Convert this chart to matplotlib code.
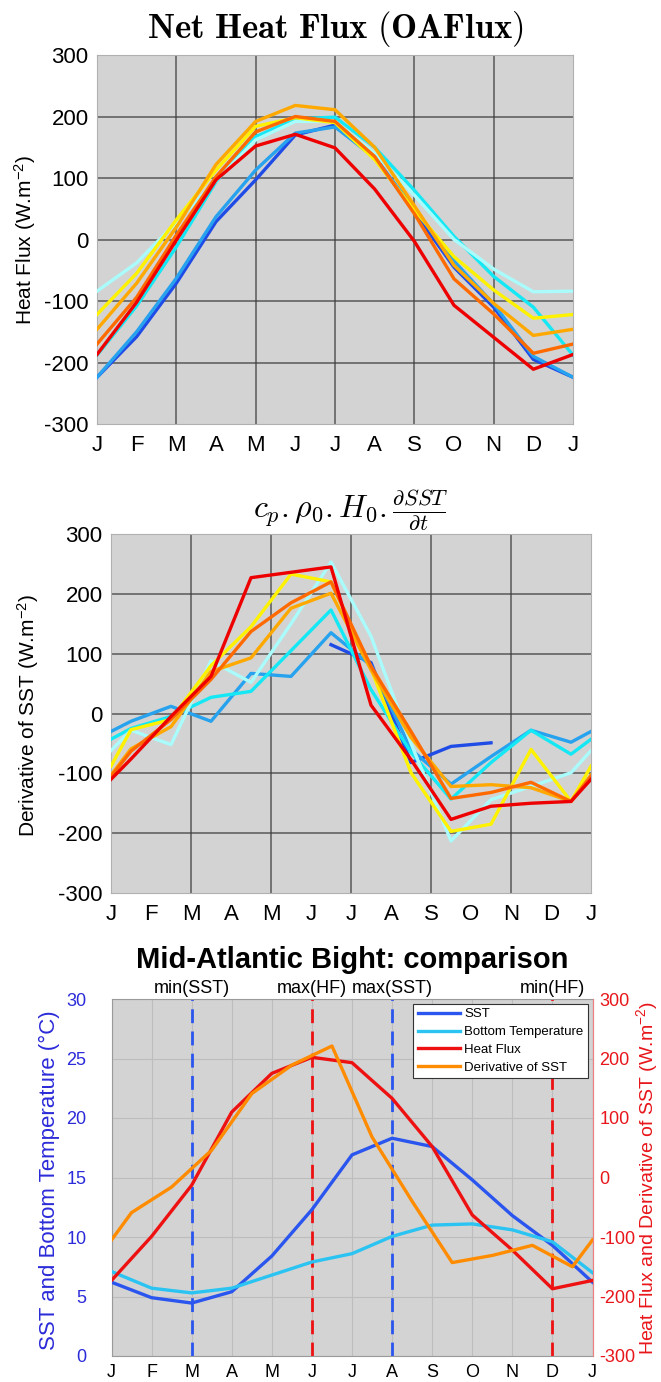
import numpy as np
import matplotlib
matplotlib.use('Agg')
import matplotlib.pyplot as plt

plt.rcParams['font.family'] = 'Liberation Sans'
plt.rcParams['mathtext.fontset'] = 'custom'
plt.rcParams['mathtext.rm'] = 'Liberation Sans'
plt.rcParams['mathtext.it'] = 'Liberation Sans:italic'
plt.rcParams['mathtext.bf'] = 'Liberation Sans:bold'
plt.rcParams['axes.unicode_minus'] = False

months = ['J', 'F', 'M', 'A', 'M', 'J', 'J', 'A', 'S', 'O', 'N', 'D', 'J']
x_month = np.arange(13)
x_mid = [0, 0.5, 1.5, 2.5, 3.5, 4.5, 5.5, 6.5, 7.5, 8.5, 9.5, 10.5, 11.5, 12]
nan = np.nan

# panel 1 : net heat flux (OAFlux), one line per box
hf_blue = [-224, -158, -71, 29, 97, 170, 186, 135, 45, -45, -110, -195, -224]
hf_dodger = [-224, -150, -63, 37, 113, 173, 183, 133, 50, -35, -105, -190, -224]
hf_cyan = [-188, -108, -12, 94, 167, 196, 199, 150, 80, 5, -60, -110, -188]
hf_pale = [-84, -38, 28, 96, 162, 192, 192, 140, 72, 0, -48, -85, -84]
hf_yellow = [-122, -55, 32, 113, 184, 198, 190, 130, 48, -28, -82, -128, -122]
hf_orange = [-146, -71, 20, 122, 192, 218, 211, 150, 55, -42, -104, -156, -146]
hf_dkorange = [-170, -94, 7, 102, 175, 200, 192, 135, 42, -64, -121, -185, -170]
hf_red = [-187, -102, -1, 97, 152, 171, 149, 82, -3, -107, -159, -211, -187]

# panel 2 : cp.rho0.H0.dSST/dt (mid-month values)
ds_blue = [nan, nan, nan, nan, nan, nan, 115, 85, -82, -55, -49, nan, nan, nan]
ds_dodger = [-30, -13, 12, -13, 67, 62, 135, 80, -60, -118, -72, -28, -48, -30]
ds_cyan = [-43, -25, -5, 27, 37, 105, 173, 40, -65, -143, -82, -28, -68, -43]
ds_pale = [-62, -28, -52, 88, 52, 150, 253, 129, -50, -213, -144, -122, -99, -62]
ds_yellow = [-88, -27, -10, 80, 145, 233, 220, 75, -99, -197, -185, -60, -147, -88]
ds_orange = [-103, -59, -22, 70, 93, 176, 201, 73, -40, -122, -119, -124, -147, -103]
ds_dkorange = [-105, -63, -10, 57, 137, 185, 220, 79, -30, -142, -132, -115, -147, -105]
ds_red = [-110, -76, -5, 62, 227, 236, 245, 14, -77, -177, -155, -150, -147, -110]

# panel 3 : Mid-Atlantic Bight comparison
sst = [6.2, 4.9, 4.45, 5.4, 8.4, 12.3, 16.9, 18.3, 17.6, 14.8, 11.8, 9.3, 6.2]
bottom_t = [7.1, 5.7, 5.3, 5.7, 6.8, 7.9, 8.6, 10.05, 11.0, 11.1, 10.6, 9.6, 7.0]
hf_mean = [-173, -99, -13, 110, 175, 202, 193, 133, 52, -63, -122, -187, -173]
ds_mean = [-105, -59, -16, 46, 141, 189, 221, 68, -40, -143, -131, -114, -150, -105]

box_colors = ['#1f4be6', '#27a2ee', '#14e8f5', '#aafcfc',
              '#fff200', '#ffa800', '#ff6a00', '#ee0000']
hf_series = [hf_blue, hf_dodger, hf_cyan, hf_pale, hf_yellow, hf_orange, hf_dkorange, hf_red]
ds_series = [ds_blue, ds_dodger, ds_cyan, ds_pale, ds_yellow, ds_orange, ds_dkorange, ds_red]

fig = plt.figure(figsize=(6.61, 13.82), dpi=100)
W, H = 661., 1382.


def box_axes(l, t, r, b):
    return fig.add_axes([l/W, 1-b/H, (r-l)/W, (b-t)/H])


def style_top(ax):
    ax.set_facecolor('#d3d3d3')
    ax.set_xlim(0, 12)
    ax.set_ylim(-300, 300)
    ax.set_xticks(x_month)
    ax.set_xticklabels(months)
    ax.set_yticks(np.arange(-300, 301, 100))
    ax.tick_params(length=0, labelsize=16)
    ax.tick_params(axis='x', pad=8)
    ax.tick_params(axis='y', pad=6)
    for v in np.arange(-200, 201, 100):
        ax.axhline(v, color='#3c3c3c', lw=1.2, alpha=0.75, zorder=1)
    for m in [2, 4, 6, 8, 10]:
        ax.axvline(m, color='#3c3c3c', lw=1.2, alpha=0.75, zorder=1)
    for s in ax.spines.values():
        s.set_color('#b0b0b0')
        s.set_linewidth(0.8)


# ---- panel 1
ax1 = box_axes(97, 55, 573, 424)
style_top(ax1)
for ys, c in zip(hf_series, box_colors):
    ax1.plot(x_month, ys, color=c, lw=2.4, zorder=3)
ax1.set_title(r'$\mathbf{Net\ Heat\ Flux\ (OAFlux)}$', math_fontfamily='cm',
              fontsize=25, pad=12)
fig.text(25/W, 1-240/H, 'Heat Flux (W.m$^{-2}$)', rotation=90,
         ha='center', va='center', fontsize=15)

# ---- panel 2
ax2 = box_axes(111, 534, 591, 893)
style_top(ax2)
for ys, c in zip(ds_series, box_colors):
    ax2.plot(x_mid, ys, color=c, lw=2.4, zorder=3)
ax2.set_title(r'$c_p.\rho_0.H_0.\frac{\partial SST}{\partial t}$', math_fontfamily='cm',
              fontsize=23, pad=12)
fig.text(28/W, 1-715/H, 'Derivative of SST (W.m$^{-2}$)', rotation=90,
         ha='center', va='center', fontsize=15)

# ---- panel 3
c_sst, c_bot, c_hf, c_ds = '#2a55ee', '#2bc4f2', '#ee1111', '#ff8c00'
ax3 = box_axes(111.5, 999, 592.5, 1356)
ax3.set_facecolor('#d3d3d3')
ax3.set_xlim(0, 12)
ax3.set_ylim(0, 30)
ax3.set_xticks(x_month)
ax3.set_xticklabels(months)
ax3.set_yticks(np.arange(0, 31, 5))
ax3.grid(True, color='#bdbdbd', lw=0.8)
ax3.set_axisbelow(True)
ax3.tick_params(length=0, labelsize=13)
ax3.tick_params(axis='y', colors='#2b2bd9', pad=18)
ax3.tick_params(axis='x', pad=6)
l_sst, = ax3.plot(x_month, sst, color=c_sst, lw=2.4, zorder=3)
l_bot, = ax3.plot(x_month, bottom_t, color=c_bot, lw=2.4, zorder=3)

ax3r = ax3.twinx()
ax3r.set_ylim(-300, 300)
ax3r.set_yticks(np.arange(-300, 301, 100))
ax3r.tick_params(length=0, labelsize=13, colors='#e8161b', pad=5)
l_hf, = ax3r.plot(x_month, hf_mean, color=c_hf, lw=2.4, zorder=3)
l_ds, = ax3r.plot(x_mid, ds_mean, color=c_ds, lw=2.4, zorder=3)
for s in ax3.spines.values():
    s.set_color('#9a9a9a')
    s.set_linewidth(0.8)
ax3r.spines['right'].set_color('#f08080')
for k in ['left', 'top', 'bottom']:
    ax3r.spines[k].set_visible(False)

# key dates taken from the series
events = [(int(np.argmin(sst[:12])), 'min(SST)', c_sst),
          (int(np.argmax(hf_mean[:12])), 'max(HF)', c_hf),
          (int(np.argmax(sst[:12])), 'max(SST)', c_sst),
          (int(np.argmin(hf_mean[:12])), 'min(HF)', c_hf)]
for m, lab, c in events:
    ax3.axvline(m, color=c, lw=2, ls=(0, (5, 3)), zorder=2)
    ax3.text(m, 1.005, lab, transform=ax3.get_xaxis_transform(),
             ha='center', va='bottom', fontsize=13)

ax3.set_title('Mid-Atlantic Bight: comparison', fontsize=21, fontweight='bold', pad=22)
leg = ax3r.legend([l_sst, l_bot, l_hf, l_ds],
                  ['SST', 'Bottom Temperature', 'Heat Flux', 'Derivative of SST'],
                  loc='upper right', fontsize=9.5, handlelength=3.2,
                  fancybox=False, framealpha=1, edgecolor='#333333',
                  borderaxespad=0.35, borderpad=0.35, labelspacing=0.42,
                  handletextpad=0.3)
leg.get_frame().set_linewidth(0.8)

fig.text(49/W, 1-1180/H, 'SST and Bottom Temperature (°C)', rotation=90,
         ha='center', va='center', fontsize=16, color='#2b2bd9')
fig.text(647/W, 1-1178/H, 'Heat Flux and Derivative of SST (W.m$^{-2}$)', rotation=90,
         ha='center', va='center', fontsize=14, color='#e8161b')

fig.savefig('out.png', dpi=100, facecolor='w')
